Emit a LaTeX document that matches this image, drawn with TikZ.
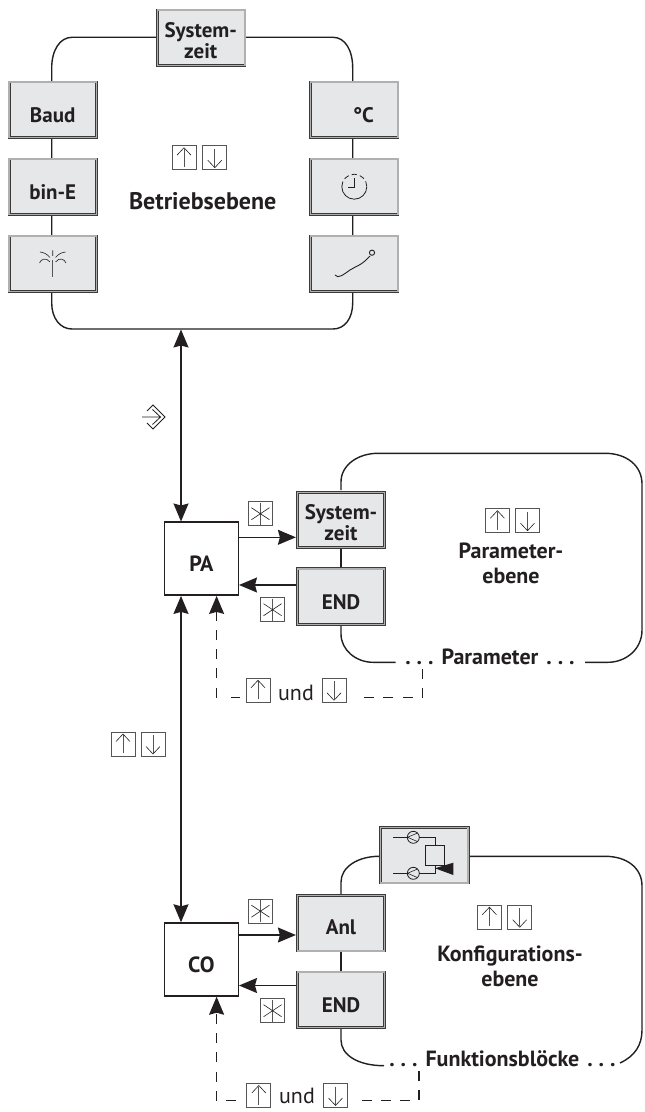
\documentclass[tikz,border=0pt]{standalone}
\usepackage{fontspec}
\setmainfont{PT Sans}
\usetikzlibrary{arrows.meta}
\definecolor{fieldfill}{HTML}{E6E7E8}
\definecolor{fieldline}{HTML}{3A3A3A}
\definecolor{fieldband}{HTML}{B0B0B0}
\definecolor{inkline}{HTML}{231F20}
\definecolor{keyline}{HTML}{555555}
\newcommand{\leveldots}{.\hspace{3pt}.\hspace{3pt}.}

\tikzset{
  fieldbox/.style={rectangle,draw=fieldline,line width=0.35pt,double=fieldband,double distance=0.7pt,
    fill=fieldfill,minimum width=43.7pt,minimum height=27.7pt,outer sep=0.7pt,inner sep=0pt},
  fieldtext/.style={inner sep=0pt,align=center,text=inkline,font=\bfseries\fontsize{10.5}{9.5}\selectfont},
  leveltext/.style={inner sep=0pt,align=center,text=inkline,font=\bfseries\fontsize{11}{12.5}\selectfont},
  modebox/.style={rectangle,draw=inkline,line width=0.75pt,fill=white,minimum width=37pt,
    minimum height=36.5pt,inner sep=0pt,outer sep=0.35pt},
  flowline/.style={draw=inkline,line width=0.7pt,-{Stealth[length=9pt,width=7.5pt,inset=1pt]}},
  flowboth/.style={flowline,{Stealth[length=9pt,width=7.5pt,inset=1pt]}-{Stealth[length=9pt,width=7.5pt,inset=1pt]}},
  backline/.style={flowline,dash pattern=on 5pt off 4.6pt},
  backdash/.style={draw=inkline,line width=0.7pt,dash pattern=on 5pt off 4.6pt},
  framecurve/.style={draw=inkline,line width=0.7pt},
  icon/.style={draw=inkline,line width=0.3pt},
  stemline/.style={draw=keyline,line width=0.4pt},
  keybox/.style={rectangle,draw=keyline,line width=0.35pt,fill=white,minimum size=12pt,inner sep=0pt},
  upkey/.style={keybox,path picture={
    \draw[stemline] (0,9)--(0,-9);
    \draw[icon] (-7,-2.5)--(0,-10)--(7,-2.5);}},
  downkey/.style={keybox,path picture={
    \draw[stemline] (0,-9)--(0,9);
    \draw[icon] (-7,2.5)--(0,10)--(7,2.5);}},
  starkey/.style={keybox,path picture={
    \draw[stemline] (0,-11)--(0,11);
    \draw[icon] (-9,-6)--(9,6) (-9,6)--(9,-6);}},
}

\begin{document}
\begin{tikzpicture}[x=0.5pt,y=-0.5pt]
  \useasboundingbox (0,0) rectangle (644,1112);

  % operating level
  \draw[framecurve] (51.7,90) -- (51.7,68) .. controls (51.7,50) and (60,37.3) .. (72,37.3)
    -- (333,37.3) .. controls (345,37.3) and (352.7,50) .. (352.7,68) -- (352.7,280)
    -- (352.7,303) .. controls (352.7,318) and (345,329) .. (333,329)
    -- (72,329) .. controls (60,329) and (51.7,318) .. (51.7,303) -- cycle;
  \foreach \name/\x/\y in {systop/201.2/37.8,baud/52.8/109.8,bine/52.8/186.8,water/52.8/263.8,
      degree/354.3/109.8,clock/354.3/186.8,trend/354.3/263.8}
    {\node[fieldbox] (\name) at (\x,\y) {};}
  \node[fieldtext] (systoptext) at (200.7,41) {System-\\zeit};
  \node[fieldtext] (baudtext) at (52.7,115) {Baud};
  \node[fieldtext] (binetext) at (52.7,192) {bin-E};
  \node[fieldtext] (degreetext) at (363.5,115) {°C};
  \node[leveltext,font=\bfseries\fontsize{12}{13}\selectfont] (operating) at (202.7,200.7) {Betriebsebene};

  % field icons
  \draw[stemline] (52.7,260)--(52.7,277.5);
  \draw[icon] (39.5,263) .. controls (41,259) and (46,257) .. (50,262)
    (66,263) .. controls (64.5,259) and (59.5,257) .. (55.5,262)
    (40,252) .. controls (44,252.5) and (47,254) .. (50,257.5)
    (65.5,252) .. controls (61.5,252.5) and (58.5,254) .. (55.5,257.5)
    (52.7,250.5)--(52.7,256);
  \draw[icon,line width=0.4pt] (354.3,186.7) ++(12.5,0) arc[start angle=0,end angle=180,radius=12.5];
  \draw[icon,line width=0.4pt,dash pattern=on 2.6pt off 1.6pt] (354.3,186.7) ++(-12.5,0) arc[start angle=180,end angle=360,radius=12.5];
  \draw[icon,line width=0.6pt] (354.3,178)--(354.3,187.5)--(348,187.5);
  \draw[icon,line width=0.45pt] (335,275) .. controls (338,279) and (343,275) .. (350,270)
    .. controls (356,266) and (361,266) .. (370,256);
  \draw[icon,line width=0.45pt] (372,252.7) circle[radius=2.6];

  % parameter level
  \draw[framecurve] (341,490) -- (341,482) .. controls (341,465) and (358,453.3) .. (378,453.3)
    -- (605,453.3) .. controls (627,453.3) and (642,466) .. (642,484) -- (642,630)
    .. controls (642,650) and (625,662.3) .. (608,662.3) -- (585,662.3);
  \draw[framecurve] (341,625) -- (341,634) .. controls (341,650) and (356,662.3) .. (373,662.3) -- (395.7,662.3);
  \node[fieldbox] (sysparam) at (341,520) {};
  \node[fieldbox] (endparam) at (341,596.5) {};
  \draw[framecurve] (sysparam) -- (endparam);
  \node[fieldtext] (sysparamtext) at (341,523) {System-\\zeit};
  \node[fieldtext] (endparamtext) at (341,601.7) {END};
  \node[leveltext] (paramlevel) at (511,563.5) {Parameter-\\ebene};
  \node[fieldtext,font=\bfseries\fontsize{11}{12}\selectfont] (paramdots) at (490,657) {\leveldots\hspace{4pt}Parameter\hspace{4pt}\leveldots};

  % configuration level
  \draw[framecurve] (341,895) -- (341,882) .. controls (341,867) and (358,856.3) .. (379,856.3)
    -- (605,856.3) .. controls (627,856.3) and (642,868) .. (642,886) -- (642,1030)
    .. controls (642,1045) and (635,1056) .. (620,1063);
  \draw[framecurve] (341,1028) -- (341,1040) .. controls (341,1055) and (358,1065.7) .. (384,1065.7);
  \node[fieldbox] (valve) at (424.4,855.2) {};
  \node[fieldbox] (anl) at (341,923.2) {};
  \node[fieldbox] (endconf) at (341,999.7) {};
  \draw[framecurve] (anl) -- (endconf);
  \node[fieldtext] (anltext) at (341,927.5) {Anl};
  \node[fieldtext] (endconftext) at (341,1005) {END};
  \node[leveltext] (conflevel) at (510,966.5) {Konfigurations-\\ebene};
  \node[fieldtext,font=\bfseries\fontsize{11}{12}\selectfont] (confdots) at (502.4,1059) {\leveldots\hspace{4pt}Funktionsblöcke\hspace{4pt}\leveldots};

  % valve icon
  \draw[icon,line width=0.4pt] (393.3,837.3)--(407.3,837.3) (419.3,837.3)--(435,837.3)--(435,845)
    (435,865)--(435,873.3)--(419.3,873.3) (407.3,873.3)--(393.3,873.3);
  \draw[icon,line width=0.4pt] (413.3,837.3) circle[radius=6] (413.3,873.3) circle[radius=6];
  \draw[icon] (417.5,833)--(407.5,837.3)--(417.5,841.6) (417.5,869)--(407.5,873.3)--(417.5,877.6);
  \draw[icon,line width=0.4pt] (425.7,845) rectangle (444.7,865);
  \fill[inkline] (435,868.3)--(453.3,862.7)--(453.3,875)--cycle;

  % mode boxes and connectors
  \node[modebox] (pa) at (201.3,558.7) {};
  \node[modebox] (co) at (201.3,959.5) {};
  \node[fieldtext,font=\bfseries\fontsize{11}{12}\selectfont] (patext) at (201.4,564) {PA};
  \node[fieldtext,font=\bfseries\fontsize{11}{12}\selectfont] (cotext) at (201.4,965) {CO};
  \coordinate (levelbottom) at (181,329.5);
  \draw[flowboth] (levelbottom) -- (pa.north -| levelbottom);
  \draw[flowboth] (pa.south -| levelbottom) -- (co.north -| levelbottom);
  \draw[flowline] (pa.east |- 0,537.3) -- (sysparam.west |- 0,537.3);
  \draw[flowline] (endparam.west |- 0,585) -- (pa.east |- 0,585);
  \draw[flowline] (co.east |- 0,935) -- (anl.west |- 0,935);
  \draw[flowline] (endconf.west |- 0,985.5) -- (co.east |- 0,985.5);

  \coordinate (paramback) at (422.3,669);
  \coordinate (confback) at (418.8,1071);
  \draw[backdash] (paramback) -- (422.3,697.7) -- (362,697.7);
  \draw[backdash] (240,697.5) -- (230.7,697.5);
  \draw[backline] (216.6,697.5) -- (pa.south -| 216.6,0);
  \draw[backdash] (confback) -- (418.8,1100.7) -- (361,1100.7);
  \draw[backdash] (236,1100.7) -- (226,1100.7);
  \draw[backline] (216.6,1100.7) -- (co.south -| 216.6,0);
  \node[inner sep=0pt,font=\fontsize{11}{12}\selectfont,text=inkline] (paramund) at (296,693) {und};
  \node[inner sep=0pt,font=\fontsize{11}{12}\selectfont,text=inkline] (confund) at (297,1096) {und};

  % keys
  \foreach \name/\x/\y in {upa/184/157.7,upb/497.4/520.7,upc/489.4/917.2,upd/258/690.3,upe/258.8/1095.5,upf/123/744}
    {\node[upkey] (\name) at (\x,\y) {};}
  \foreach \name/\x/\y in {dna/214.8/157.7,dnb/527.5/520.7,dnc/519.7/917.2,dnd/334/690.3,dne/335.5/1095.5,dnf/153/744}
    {\node[downkey] (\name) at (\x,\y) {};}
  \foreach \name/\x/\y in {stara/260.4/513.7,starb/272.6/609.7,starc/260.4/911.2,stard/272.6/1010.7}
    {\node[starkey] (\name) at (\x,\y) {};}
  \draw[icon,line width=0.4pt] (147,411) -- (153,405) -- (165,417) -- (153,429) -- (147,423)
    (142,417) -- (161,417) (152.5,409.5) -- (160.5,417) -- (152.5,424.5);
\end{tikzpicture}
\end{document}
